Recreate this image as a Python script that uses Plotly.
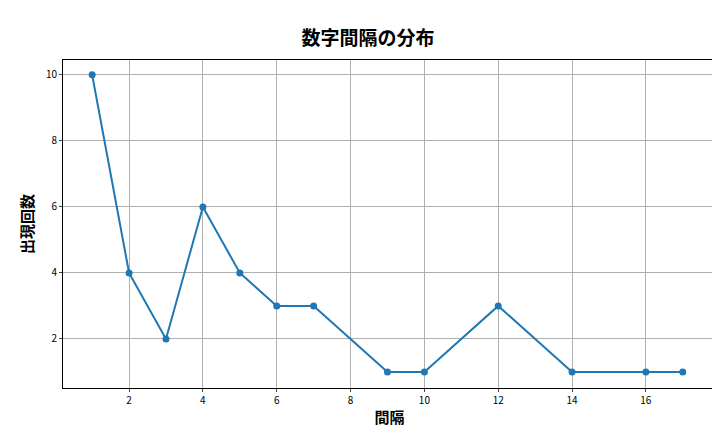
import plotly.graph_objects as go

intervals = [1, 2, 3, 4, 5, 6, 7, 9, 10, 12, 14, 16, 17]
counts = [10, 4, 2, 6, 4, 3, 3, 1, 1, 3, 1, 1, 1]

font = "Noto Sans CJK JP"
fig = go.Figure(go.Scatter(x=intervals, y=counts, mode="lines+markers",
                           line=dict(color="#1f77b4", width=2),
                           marker=dict(color="#1f77b4", size=7)))
axis = dict(showgrid=True, gridcolor="#b0b0b0", gridwidth=0.8, showline=True, mirror=True,
            linecolor="black", linewidth=1, ticks="outside", ticklen=3, zeroline=False,
            automargin=False, tickfont=dict(size=10, family=font, color="black"))
fig.update_layout(
    width=720, height=432, plot_bgcolor="white", paper_bgcolor="white",
    margin=dict(l=55, r=12, t=52, b=52), showlegend=False,
    title=dict(text="<b>数字間隔の分布</b>", x=0.5, xanchor="center", y=0.945,
               font=dict(size=19, family=font, color="black")),
    xaxis=dict(axis, range=[0.21, 17.9], tickvals=[2, 4, 6, 8, 10, 12, 14, 16],
               title=dict(text="<b>間隔</b>", font=dict(size=15, family=font, color="black"), standoff=6)),
    yaxis=dict(axis, range=[0.515, 10.45], tickvals=[2, 4, 6, 8, 10],
               title=dict(text="<b>出現回数</b>", font=dict(size=15, family=font, color="black"), standoff=8)),
)
fig.write_html("out.html")
